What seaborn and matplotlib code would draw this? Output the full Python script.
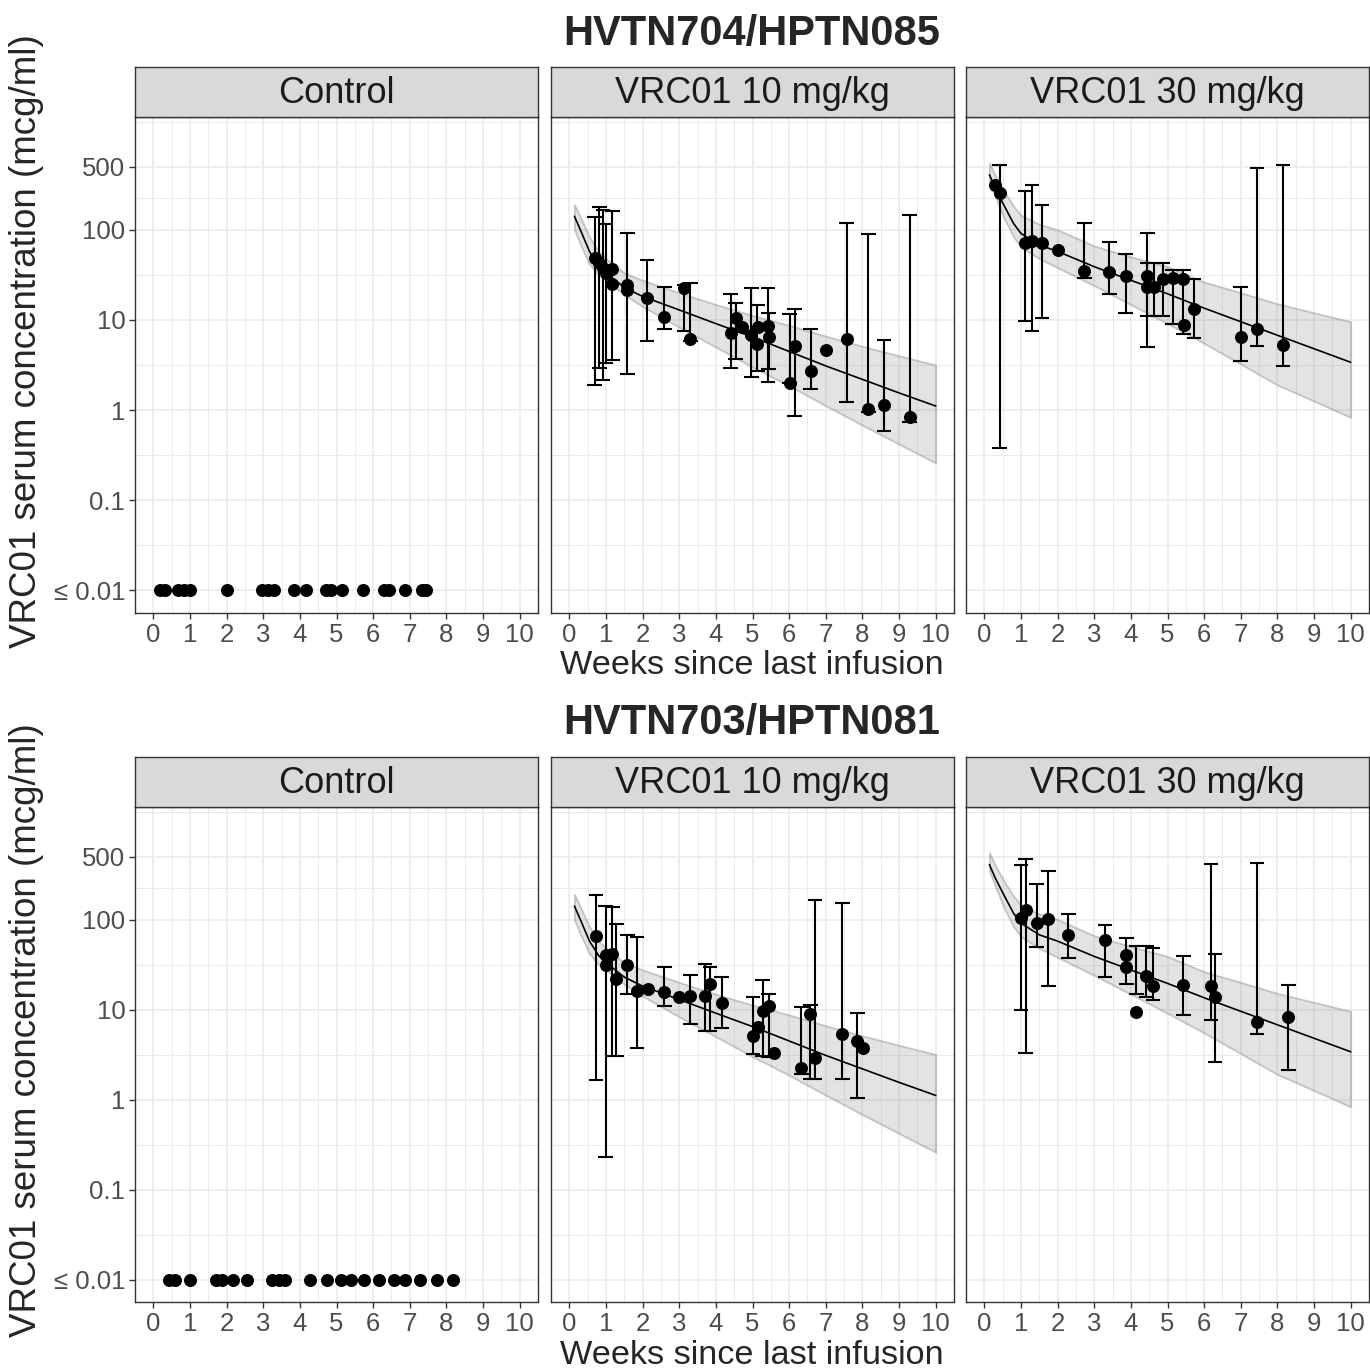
import numpy as np
import matplotlib
matplotlib.use("Agg")
import matplotlib.pyplot as plt
from matplotlib.ticker import FixedLocator, NullFormatter
import seaborn as sns

nan = np.nan

trials = ["HVTN704/HPTN085", "HVTN703/HPTN081"]
panels = ["Control", "VRC01 10 mg/kg", "VRC01 30 mg/kg"]
week_ticks = list(range(11))
conc_ticks = [0.01, 0.1, 1, 10, 100, 500]
conc_labels = ["\u2264 0.01", "0.1", "1", "10", "100", "500"]
lloq = 0.01

# control arm: every sample below quantification
ctrl704_week = [0.17, 0.31, 0.67, 0.85, 1.01, 2.0, 2.98, 3.14, 3.30, 3.84, 4.16,
                4.70, 4.84, 5.15, 5.72, 6.29, 6.42, 6.86, 7.33, 7.45]
ctrl703_week = [0.44, 0.58, 0.99, 1.71, 1.87, 2.17, 2.57, 3.25, 3.43, 3.59, 4.29,
                4.73, 5.13, 5.40, 5.74, 6.15, 6.56, 6.88, 7.28, 7.74, 8.17]

# HVTN704, 10 mg/kg
t704_10_week = [0.69, 0.82, 0.915, 0.99, 1.17, 1.17, 1.58, 1.58, 2.12, 2.59, 3.13, 3.30,
                4.40, 4.54, 4.72, 4.97, 5.13, 5.16, 5.42, 5.44, 6.01, 6.15, 6.59, 7.01,
                7.57, 8.16, 8.59, 9.29]
t704_10_conc = [48, 43, 37.5, 33, 37, 25, 24.5, 21.5, 17.7, 10.7, 22.5, 6.2,
                7.1, 10.6, 8.3, 6.8, 5.4, 8.4, 8.6, 6.5, 2.0, 5.1, 2.7, 4.6,
                6.1, 1.04, 1.14, 0.84]
t704_10_lo = [1.9, 2.9, 2.15, 3.3, 3.6, nan, 2.5, nan, 5.8, 7.9, 7.5, 5.9,
              2.9, 3.7, nan, 2.3, 2.7, nan, 2.06, 2.86, 2.0, 0.86, 1.71, nan,
              1.24, 0.95, 0.585, 0.74]
t704_10_hi = [140, 177, 167, 116, 160, nan, 92, nan, 45.6, 22.9, 24.5, 25.5,
              19.3, 15.3, nan, 22.5, 14.7, nan, 22.5, 12.0, 11.6, 13.1, 7.9, nan,
              120, 89.5, 6.0, 144]

# HVTN704, 30 mg/kg
t704_30_week = [0.28, 0.42, 1.11, 1.30, 1.57, 2.0, 2.73, 3.41, 3.86, 4.45, 4.45, 4.63,
                4.87, 5.14, 5.43, 5.46, 5.72, 7.0, 7.44, 8.15]
t704_30_conc = [311, 256, 71, 75.5, 71, 60, 35, 34.4, 30.3, 30.3, 23.4, 22.9,
                28.3, 29, 28.3, 8.8, 13.1, 6.5, 7.9, 5.3]
t704_30_lo = [nan, 0.38, 9.75, 7.55, 10.4, nan, 29.5, 19.3, 11.9, 5.05, 11.1, 11.1,
              11.1, 8.96, 6.93, nan, 6.36, 3.5, 5.18, 3.1]
t704_30_hi = [nan, 527, 267, 316, 190, nan, 120, 74, 53.7, 92, 43.3, 42.6,
              42.6, 35.9, 35.9, nan, 28.5, 23.4, 485, 518]

# HVTN703, 10 mg/kg
t703_10_week = [0.73, 0.99, 0.99, 1.17, 1.28, 1.585, 1.85, 2.14, 2.59, 3.0, 3.3, 3.70,
                3.84, 4.16, 5.01, 5.14, 5.28, 5.44, 5.6, 6.33, 6.58, 6.71, 7.45, 7.86, 8.02]
t703_10_conc = [66, 40.8, 31.6, 41.9, 21.9, 31.6, 16, 16.7, 15.6, 13.7, 14, 14,
                19, 11.7, 5.05, 6.36, 9.58, 10.9, 3.3, 2.25, 9.0, 2.9, 5.4, 4.5, 3.75]
t703_10_lo = [1.63, 0.229, nan, 3.08, 3.08, 15, 3.75, nan, 10.9, nan, 6.93, 5.74,
              5.8, 6.26, 3.22, nan, 3.03, 3.0, nan, 1.93, 1.67, 1.67, 1.71, 1.04, nan]
t703_10_hi = [186, 143, nan, 137, 88, 68, 64, nan, 29.8, nan, 24, 32.2,
              29.8, 22.9, 13.7, nan, 21.5, 14.7, nan, 10.6, 11.1, 163, 153, 9.2, nan]

# HVTN703, 30 mg/kg
t703_30_week = [1.0, 1.13, 1.43, 1.75, 2.29, 3.29, 3.88, 3.88, 4.15, 4.42, 4.6, 5.43,
                6.19, 6.3, 7.44, 8.3]
t703_30_conc = [104.5, 129, 92, 101.7, 68, 58.9, 40.8, 29.8, 9.43, 23.4, 18.2, 18.6,
                18.2, 13.8, 7.3, 8.2]
t703_30_lo = [9.75, 3.3, 49.7, 18.2, 36.9, 22.9, 19, nan, 14.9, 13.7, 12.9, 8.58,
              7.55, 2.62, 5.28, 2.12]
t703_30_hi = [401, 472, 249, 350, 116, 86.5, 62.6, nan, 50.6, 50.6, 48.5, 39.1,
              416, 41.6, 426, 18.6]

# population PK prediction with its band, per dose
curve_week = [0.14, 0.3, 0.55, 0.8, 1.0, 1.5, 2, 3, 4, 5, 6, 7, 8, 9, 10]
fit_10 = [141, 100, 57.5, 39.8, 33.1, 22.9, 18.2, 12.9, 9.1, 6.46, 4.47, 3.09, 2.19, 1.55, 1.11]
upper_10 = [190, 138, 83, 57.5, 47.9, 33.1, 27.5, 20, 14.8, 11.2, 8.7, 6.6, 5.1, 4.0, 3.16]
lower_10 = [100, 69, 41.7, 31.6, 27.5, 19.1, 14.1, 8.3, 5.0, 3.0, 1.86, 1.12, 0.68, 0.42, 0.26]
fit_30 = [407, 288, 182, 117, 91, 67.6, 57.5, 38.9, 27.5, 19.5, 13.5, 9.55, 6.76, 4.79, 3.39]
upper_30 = [550, 398, 263, 182, 145, 115, 100, 66, 50, 38.9, 26.3, 20, 15.1, 12, 9.55]
lower_30 = [347, 234, 132, 83, 64.6, 47.9, 38, 24, 14.8, 9.1, 5.5, 3.24, 1.9, 1.26, 0.83]

W, H = 1370, 1370
panel_x = [(135, 538), (551, 954), (966, 1369)]
rows = [
    dict(title_y=34, strip=(67, 117), panel=(117, 613), xlab_y=666, ylab_y=341),
    dict(title_y=723, strip=(757, 807), panel=(807, 1302), xlab_y=1355, ylab_y=1030),
]

sns.set_theme(style="whitegrid")
plt.rcParams['font.family'] = ['Liberation Sans', 'DejaVu Sans']

INK = '#333333'
GRID = '#ebebeb'


def box(x0, y0, x1, y1):
    return [x0 / W, 1 - y1 / H, (x1 - x0) / W, (y1 - y0) / H]


def draw_panel(ax, week, conc, lo=None, hi=None, curve=None):
    ax.set_yscale('log')
    week = np.asarray(week, float)
    conc = np.asarray(conc, float)
    if curve is not None:
        fit, upper, lower = curve
        ax.fill_between(curve_week, lower, upper, facecolor=(0.5, 0.5, 0.5, 0.22),
                        edgecolor=(0.55, 0.55, 0.55, 0.45), lw=1.3, zorder=2)
        sns.lineplot(x=curve_week, y=fit, ax=ax, color='black', lw=1.2, zorder=3)
    if lo is not None:
        lo = np.asarray(lo, float)
        hi = np.asarray(hi, float)
        m = ~np.isnan(lo)
        ax.vlines(week[m], lo[m], hi[m], color='black', lw=1.5, zorder=4)
        ax.hlines(lo[m], week[m] - 0.2, week[m] + 0.2, color='black', lw=1.5, zorder=4)
        ax.hlines(hi[m], week[m] - 0.2, week[m] + 0.2, color='black', lw=1.5, zorder=4)
    sns.scatterplot(x=week, y=conc, ax=ax, color='black', s=88, linewidth=0, zorder=5)


fig = plt.figure(figsize=(W / 100, H / 100), dpi=100)

data = [
    [(ctrl704_week, [lloq] * len(ctrl704_week), None, None, None),
     (t704_10_week, t704_10_conc, t704_10_lo, t704_10_hi, (fit_10, upper_10, lower_10)),
     (t704_30_week, t704_30_conc, t704_30_lo, t704_30_hi, (fit_30, upper_30, lower_30))],
    [(ctrl703_week, [lloq] * len(ctrl703_week), None, None, None),
     (t703_10_week, t703_10_conc, t703_10_lo, t703_10_hi, (fit_10, upper_10, lower_10)),
     (t703_30_week, t703_30_conc, t703_30_lo, t703_30_hi, (fit_30, upper_30, lower_30))],
]

for r, row in enumerate(rows):
    for c, (x0, x1) in enumerate(panel_x):
        ax = fig.add_axes(box(x0, row['panel'][0], x1, row['panel'][1]))
        week, conc, lo, hi, curve = data[r][c]
        draw_panel(ax, week, conc, lo, hi, curve)

        ax.set_xlim(-0.5, 10.5)
        ax.set_ylim(10 ** -2.25, 10 ** 3.25)
        ax.set_xticks(week_ticks)
        ax.set_xticklabels([str(t) for t in week_ticks])
        ax.xaxis.set_minor_locator(FixedLocator(np.arange(-0.5, 10.6, 1.0)))
        ax.set_yticks(conc_ticks)
        ax.set_yticklabels(conc_labels)
        ax.yaxis.set_minor_locator(FixedLocator([10 ** -1.5, 10 ** -0.5, 10 ** 0.5,
                                                 10 ** 1.5, 10 ** 2.35, 10 ** 3.2]))
        ax.yaxis.set_minor_formatter(NullFormatter())
        ax.set_xlabel('')
        ax.set_ylabel('')
        ax.set_facecolor('white')
        ax.grid(which='major', color=GRID, lw=1.2)
        ax.grid(which='minor', color=GRID, lw=0.7)
        ax.set_axisbelow(True)
        ax.tick_params(which='major', direction='out', length=4, width=1, color=INK,
                       labelsize=18.5, labelcolor='#4d4d4d', pad=3,
                       bottom=True, left=(c == 0), labelleft=(c == 0))
        ax.tick_params(which='minor', length=0)
        for s in ax.spines.values():
            s.set_visible(True)
            s.set_color(INK)
            s.set_linewidth(1.0)

        sax = fig.add_axes(box(x0, row['strip'][0], x1, row['strip'][1]))
        sax.set_facecolor('#d9d9d9')
        sax.set_xticks([])
        sax.set_yticks([])
        sax.grid(False)
        for s in sax.spines.values():
            s.set_visible(True)
            s.set_color(INK)
            s.set_linewidth(1.0)
        sax.text(0.5, 0.47, panels[c], transform=sax.transAxes, ha='center', va='center',
                 fontsize=26, color='#1a1a1a')

    fig.text(752 / W, 1 - row['title_y'] / H, trials[r], ha='center', va='center',
             fontsize=30, fontweight='bold')
    fig.text(752 / W, 1 - row['xlab_y'] / H, 'Weeks since last infusion', ha='center',
             va='center', fontsize=24.7)
    fig.text(27 / W, 1 - row['ylab_y'] / H, 'VRC01 serum concentration (mcg/ml)',
             rotation=90, ha='center', va='center', fontsize=26.5)

fig.savefig('out.png', dpi=100)
